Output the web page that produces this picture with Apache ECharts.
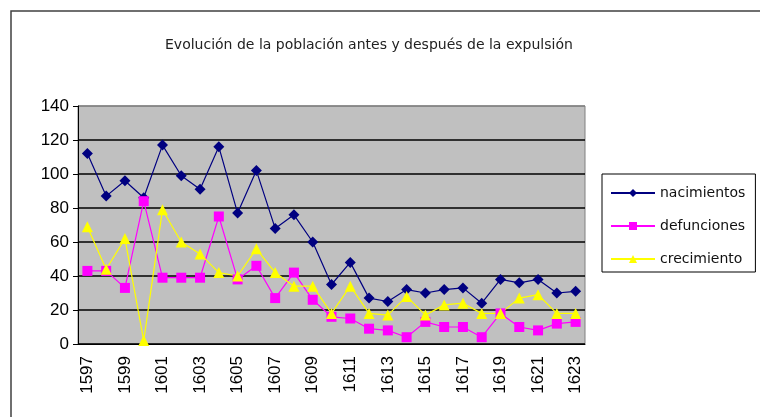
<!DOCTYPE html>
<html>
<head>
<meta charset="utf-8">
<script src="https://cdn.jsdelivr.net/npm/echarts@6/dist/echarts.min.js"></script>
<style>
  html, body { margin: 0; padding: 0; background: #fff; }
  #chart { width: 760px; height: 417px; }
</style>
</head>
<body>
<div id="chart"></div>
<script>
// años
var years = ['1597','1598','1599','1600','1601','1602','1603','1604','1605','1606','1607','1608','1609',
  '1610','1611','1612','1613','1614','1615','1616','1617','1618','1619','1620','1621','1622','1623']

var nacimientos = [112, 87, 96, 86, 117, 99, 91, 116, 77, 102, 68, 76, 60,
  35, 48, 27, 25, 32, 30, 32, 33, 24, 38, 36, 38, 30, 31]
var defunciones = [43, 43, 33, 84, 39, 39, 39, 75, 38, 46, 27, 42, 26,
  16, 15, 9, 8, 4, 13, 10, 10, 4, 18, 10, 8, 12, 13]
var crecimiento = [69, 44, 62, 2, 79, 60, 53, 42, 40, 56, 42, 34, 34,
  18, 34, 18, 17, 28, 17, 23, 24, 18, 18, 27, 29, 18, 18]

var yTicks = { min: 0, max: 140, interval: 20 }

var myChart = echarts.init(document.getElementById('chart'))

var option = {
  backgroundColor: '#fff',
  animation: false,
  title: {
    text: 'Evolución de la población antes y después de la expulsión',
    left: 160,
    top: 33,
    textStyle: { fontFamily: 'DejaVu Sans', fontSize: 14, fontWeight: 'normal', color: '#222' }
  },
  graphic: [{
    type: 'rect',
    shape: { x: 11, y: 11, width: 800, height: 500 },
    style: { fill: 'none', stroke: '#404040', lineWidth: 1.5 }
  }],
  legend: {
    orient: 'vertical',
    left: 602,
    top: 174,
    width: 155,
    padding: [12, 10, 6, 8],
    itemGap: 19,
    itemWidth: 44,
    itemHeight: 10,
    borderColor: '#000',
    borderWidth: 1,
    textStyle: { fontFamily: 'DejaVu Sans', fontSize: 14, color: '#111' },
    data: ['nacimientos', 'defunciones', 'crecimiento']
  },
  grid: {
    left: 78, top: 106, right: 175, bottom: 73,
    show: true,
    backgroundColor: '#c0c0c0',
    borderColor: '#808080',
    borderWidth: 1
  },
  xAxis: {
    type: 'category',
    data: years,
    boundaryGap: true,
    axisLine: { lineStyle: { color: '#000', width: 1 } },
    axisTick: { interval: 0, length: 5, lineStyle: { color: '#000' } },
    axisLabel: {
      interval: 1,
      rotate: 90,
      margin: 12,
      fontFamily: 'Liberation Sans',
      fontSize: 17,
      color: '#000'
    }
  },
  yAxis: {
    type: 'value',
    min: yTicks.min,
    max: yTicks.max,
    interval: yTicks.interval,
    axisLine: { show: true, lineStyle: { color: '#000', width: 1 } },
    axisTick: { show: true, length: 5, lineStyle: { color: '#000' } },
    axisLabel: { fontFamily: 'Liberation Sans', fontSize: 17, color: '#000', margin: 9 },
    splitLine: {
      lineStyle: {
        color: ['#000', '#000', '#000', '#000', '#000', '#000', '#000', '#808080'],
        width: 1.5
      }
    }
  },
  series: [
    {
      name: 'nacimientos',
      type: 'line',
      data: nacimientos,
      color: '#000080',
      symbol: 'diamond',
      symbolSize: 11,
      lineStyle: { width: 1.2, color: '#000080' },
      itemStyle: { color: '#000080' }
    },
    {
      name: 'defunciones',
      type: 'line',
      data: defunciones,
      color: '#ff00ff',
      symbol: 'rect',
      symbolSize: 10,
      lineStyle: { width: 1.2, color: '#ff00ff' },
      itemStyle: { color: '#ff00ff' }
    },
    {
      name: 'crecimiento',
      type: 'line',
      data: crecimiento,
      color: '#ffff00',
      symbol: 'triangle',
      symbolSize: 11,
      lineStyle: { width: 1.2, color: '#ffff00' },
      itemStyle: { color: '#ffff00' }
    }
  ]
}

myChart.setOption(option)
</script>
</body>
</html>
